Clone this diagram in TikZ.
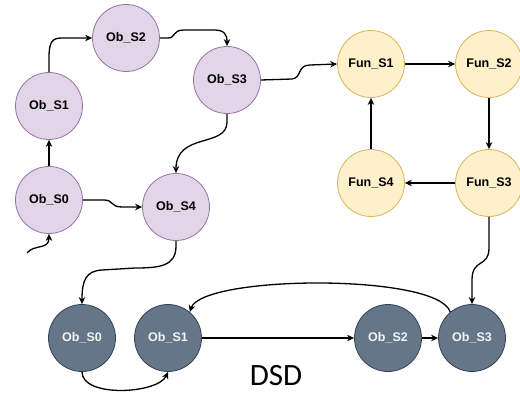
\documentclass[tikz,border=0pt]{standalone}
\usepackage{fontspec}
\setmainfont{Liberation Sans}
\newfontfamily\dsdfont{Carlito}
\usetikzlibrary{arrows.meta}
\definecolor{pfill}{HTML}{E1D5E7}
\definecolor{pdraw}{HTML}{9673A6}
\definecolor{yfill}{HTML}{FDF0CA}
\definecolor{ydraw}{HTML}{D6B656}
\definecolor{dfill}{HTML}{647687}
\definecolor{ddraw}{HTML}{314354}
\begin{document}
\begin{tikzpicture}[x=1pt,y=-1pt,
  st/.style={circle,minimum size=67pt,inner sep=0pt,font=\fontsize{12.5}{13}\selectfont\bfseries},
  ob/.style={st,fill=pfill,draw=pdraw,line width=0.8pt},
  fun/.style={st,fill=yfill,draw=ydraw,line width=0.8pt},
  dk/.style={st,fill=dfill,draw=ddraw,line width=0.8pt,text=white!92!dfill},
  ed/.style={line width=1.3pt,-{Stealth[length=7pt,width=6.5pt]}}]
\useasboundingbox (0,0) rectangle (520,396);
\node[ob] (S0) at (49,200) {Ob\_S0};
\node[ob] (S1) at (49,106) {Ob\_S1};
\node[ob] (S2) at (126,38) {Ob\_S2};
\node[ob] (S3) at (227,80) {Ob\_S3};
\node[ob] (S4) at (176,207) {Ob\_S4};
\node[fun] (F1) at (371,64) {Fun\_S1};
\node[fun] (F2) at (489,64) {Fun\_S2};
\node[fun] (F4) at (371,183) {Fun\_S4};
\node[fun] (F3) at (489,183) {Fun\_S3};
\node[dk] (D0) at (82,338) {Ob\_S0};
\node[dk] (D1) at (168,338) {Ob\_S1};
\node[dk] (D2) at (388,338) {Ob\_S2};
\node[dk] (D3) at (472,338) {Ob\_S3};
\node[font=\dsdfont\fontsize{31}{31}\selectfont] (dsd) at (276,376) {DSD};
\coordinate (init) at (27,253);
\draw[ed] (init) .. controls (34,244) and (49,250) .. (S0.south);
\draw[ed] (S0) -- (S1);
\draw[ed] (S1.north) -- (49,58) .. controls (49,42) and (52,38) .. (62,38) -- (S2.west);
\draw[ed] (S2.east) -- (168,38) .. controls (176,38) and (172,30) .. (184,30) -- (214,30) .. controls (224,30) and (227,34) .. (S3.north);
\draw[ed] (S3.south) -- (227,122) .. controls (227,148) and (176,132) .. (S4.north);
\draw[ed] (S0.east) -- (104,200) .. controls (114,200) and (110,207) .. (122,207) -- (S4.west);
\draw[ed] (S3.east) -- (292,79) .. controls (302,78) and (297,65) .. (310,65) -- (F1.west);
\draw[ed] (F1) -- (F2);
\draw[ed] (F2) -- (F3);
\draw[ed] (F3) -- (F4);
\draw[ed] (F4) -- (F1);
\draw[ed] (S4.south) -- (176,246) .. controls (176,266) and (160,268) .. (135,268) -- (102,270) .. controls (86,271) and (82,280) .. (D0.north);
\draw[ed] (F3.south) -- (489,248) .. controls (489,268) and (472,258) .. (472,280) -- (D3.north);
\draw[ed] (D0.south) .. controls (82,398) and (158,394) .. (D1.south);
\draw[ed] (D1) -- (D2);
\draw[ed] (D2) -- (D3);
\draw[ed] (D3.130) .. controls (438,273) and (202,275) .. (D1.50);
\end{tikzpicture}
\end{document}
